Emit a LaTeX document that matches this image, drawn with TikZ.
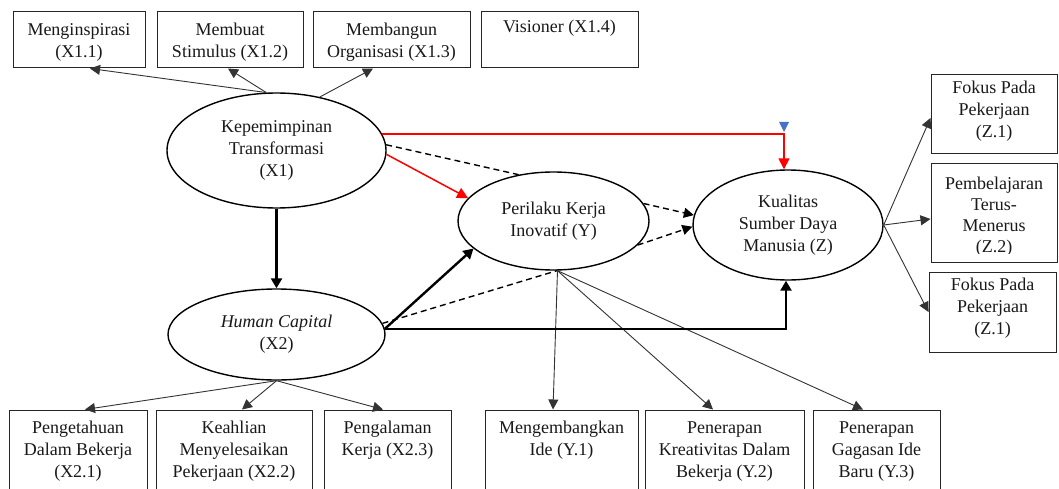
\documentclass[tikz,border=0pt]{standalone}
\usepackage{fontspec}
\setmainfont{Liberation Serif}
\usetikzlibrary{arrows.meta,shapes.geometric,calc}
\definecolor{wordblue}{HTML}{4472C4}
\begin{document}
\begin{tikzpicture}[x=1pt,y=-1pt,
  box/.style={draw=black!85,line width=1pt,rectangle,inner sep=0pt},
  txt/.style={anchor=north,align=center,inner sep=0pt,font=\fontsize{18}{22}\selectfont,text=black!90},
  ell/.style={draw=black,line width=1.4pt,ellipse,inner sep=0pt,align=center,font=\fontsize{18}{22}\selectfont,text=black!90},
  thinarr/.style={draw=black!80,line width=0.9pt,-{Triangle[length=10pt,width=10pt]}},
  thickarr/.style={draw=black,line width=2.4pt,-{Triangle[length=10pt,width=11pt]}},
  dsh/.style={draw=black,line width=1.4pt,dash pattern=on 6pt off 4pt},
  dsharr/.style={dsh,-{Triangle[length=10pt,width=10pt]}},
  redarr/.style={draw=red,line width=1.5pt,-{Triangle[length=11pt,width=11pt]}}]
\fill[white] (0,0) rectangle (1059,489);
\clip (0,0) rectangle (1059,489);

% top boxes
\node[box,minimum width=132pt,minimum height=56pt] (m1) at (79,40) {};
\node[txt] at ([yshift=-8.6pt]m1.north) {\strut Menginspirasi\\(X1.1)};
\node[box,minimum width=146pt,minimum height=56pt] (m2) at (230,40) {};
\node[txt] at ([yshift=-8.6pt]m2.north) {\strut Membuat\\Stimulus (X1.2)};
\node[box,minimum width=157pt,minimum height=56pt] (m3) at (391.5,40) {};
\node[txt] at ([yshift=-8.6pt]m3.north) {\strut Membangun\\Organisasi (X1.3)};
\node[box,minimum width=157pt,minimum height=56pt] (m4) at (559.5,40) {};
\node[txt] at ([yshift=-5pt]m4.north) {\strut Visioner (X1.4)};

% ellipses
\node[ell,minimum width=219pt,minimum height=115pt] (X1) at (276.5,150.5) {Kepemimpinan\\Transformasi\\(X1)};
\node[ell,minimum width=217pt,minimum height=91pt] (X2) at (276.5,334.5) {\textit{Human Capital}\\(X2)};
\node[ell,minimum width=191pt,minimum height=98pt] (Y) at (553.5,221) {Perilaku Kerja\\Inovatif (Y)};
\node[ell,minimum width=190pt,minimum height=110pt] (Z) at (788,225) {Kualitas\\Sumber Daya\\Manusia (Z)};

% right boxes
\node[box,minimum width=126pt,minimum height=79pt] (z1) at (994,114.5) {};
\node[txt] at ([yshift=-3.6pt]z1.north) {\strut Fokus Pada\\Pekerjaan\\(Z.1)};
\node[box,minimum width=126pt,minimum height=98pt] (z2) at (994,213) {};
\begin{scope}
  \clip (932,165) rectangle (1056,253);
  \node[txt,font=\fontsize{18}{21}\selectfont] at ([yshift=-11pt]z2.north) {\strut Pembelajaran\\Terus-\\Menerus\\(Z.2)};
\end{scope}
\node[box,minimum width=127pt,minimum height=80pt] (z3) at (992.5,312) {};
\node[txt] at ([yshift=-3.6pt]z3.north) {\strut Fokus Pada\\Pekerjaan\\(Z.1)};

% bottom boxes
\node[box,minimum width=138pt,minimum height=85pt] (a1) at (78,452.5) {};
\node[txt] at ([yshift=-8.6pt]a1.north) {\strut Pengetahuan\\Dalam Bekerja\\(X2.1)};
\node[box,minimum width=156pt,minimum height=85pt] (a2) at (234,452.5) {};
\node[txt] at ([yshift=-8.6pt]a2.north) {\strut Keahlian\\Menyelesaikan\\Pekerjaan (X2.2)};
\node[box,minimum width=127pt,minimum height=85pt] (a3) at (387.5,452.5) {};
\node[txt] at ([yshift=-8.6pt]a3.north) {\strut Pengalaman\\Kerja (X2.3)};
\node[box,minimum width=153pt,minimum height=85pt] (b1) at (561.5,452.5) {};
\node[txt] at ([yshift=-8.6pt]b1.north) {\strut Mengembangkan\\Ide (Y.1)};
\node[box,minimum width=159pt,minimum height=85pt] (b2) at (724.5,452.5) {};
\node[txt] at ([yshift=-8.6pt]b2.north) {\strut Penerapan\\Kreativitas Dalam\\Bekerja (Y.2)};
\node[box,minimum width=127pt,minimum height=85pt] (b3) at (876.5,452.5) {};
\node[txt] at ([yshift=-8.6pt]b3.north) {\strut Penerapan\\Gagasan Ide\\Baru (Y.3)};

% X1 indicators
\draw[thinarr] (X1.100) -- ([xshift=11pt]m1.south);
\draw[thinarr] (X1.100) -- ([xshift=-2pt]m2.south);
\draw[thinarr] (X1.51) -- ([xshift=-18.5pt]m3.south);

% X2 indicators
\draw[thinarr] (X2.south) -- ([xshift=7pt]a1.north);
\draw[thinarr] (X2.south) -- ([xshift=8pt]a2.north);
\draw[thinarr] (X2.south) -- ([xshift=-4.5pt]a3.north);

% Y indicators
\draw[thinarr] ([xshift=4pt]Y.south) -- ([xshift=-8.5pt]b1.north);
\draw[thinarr] ([xshift=4pt]Y.south) -- ([xshift=-11.5pt]b2.north);
\draw[thinarr] ([xshift=4pt]Y.south) -- ([xshift=-13.5pt]b3.north);

% Z indicators
\draw[thinarr] (Z.east) -- ([yshift=-3.5pt]z1.west);
\draw[thinarr] (Z.east) -- ([yshift=-6pt]z2.west);
\draw[thinarr] (Z.east) -- (z3.west);

% structural paths
\draw[thickarr] (X1.south) -- (X2.north);
\draw[thickarr] (X2.3) -- (Y.199);
\draw[thickarr] (X2.3) -| ([xshift=-2pt]Z.south);
\draw[redarr] (X1.358) -- (Y.165);
\draw[redarr] (X1.9) -| ([xshift=-4pt]Z.north);
\fill[wordblue] (779,122) -- (789,122) -- (784,132) -- cycle;

% mediation (dashed)
\draw[dsh] (X1.3) -- (Y.127);
\draw[dsharr] (Y.11) -- (Z.174);
\draw[dsh] (X2.6) -- (Y.274);
\draw[dsharr] (Y.344) -- (Z.181);
\end{tikzpicture}
\end{document}
